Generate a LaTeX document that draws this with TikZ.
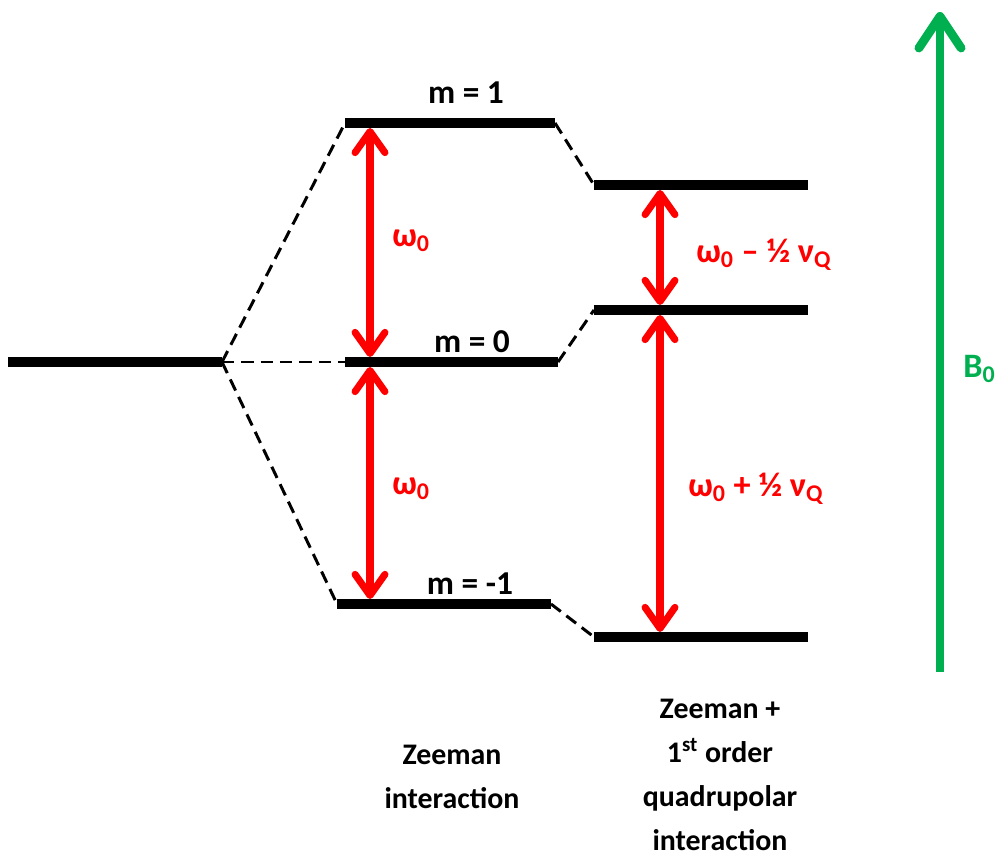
\documentclass[tikz,border=0pt]{standalone}
\usepackage{fontspec}
\setmainfont{Carlito}
\usepackage{xcolor}
\definecolor{nmrred}{RGB}{255,0,0}
\definecolor{nmrgreen}{RGB}{0,176,80}
\usetikzlibrary{arrows.meta,positioning}
\newcommand{\lo}[1]{\textsubscript{#1}}

\begin{document}
\begin{tikzpicture}[
        lvl/.style={line width=6pt, black},
        link/.style={line width=1.7pt, black, dash pattern=on 7pt off 4pt},
        arr/.style={{Straight Barb[length=12pt,width=17pt,round]}-{Straight Barb[length=12pt,width=17pt,round]},
          line width=4pt, nmrred, shorten <=0.1cm, shorten >=0.1cm},
        barr/.style={-{Straight Barb[length=18pt,width=24pt,round]}, line width=5pt, nmrgreen},
        lab/.style={font=\fontsize{17}{25}\selectfont\bfseries, align=center},
        mlab/.style={font=\fontsize{19}{24}\selectfont\bfseries, anchor=base, inner sep=0pt},
        rlab/.style={font=\fontsize{19.5}{24}\selectfont\bfseries, text=nmrred, anchor=west, inner sep=0pt}
      ]
        \useasboundingbox (0,0) rectangle (19.9,17.12);

        % energy levels
        \coordinate (g0l) at (0.16,9.88);  \coordinate (g0r) at (4.44,9.88);
        \coordinate (z1l) at (6.9,14.66);  \coordinate (z1r) at (11.1,14.66);
        \coordinate (z0l) at (6.9,9.88);   \coordinate (z0r) at (11.16,9.88);
        \coordinate (zml) at (6.74,5.04);  \coordinate (zmr) at (11.02,5.04);
        \coordinate (q1l) at (11.88,13.42); \coordinate (q1r) at (16.16,13.42);
        \coordinate (q0l) at (11.88,10.92); \coordinate (q0r) at (16.16,10.92);
        \coordinate (qml) at (11.88,4.38);  \coordinate (qmr) at (16.16,4.38);

        \draw[lvl] (g0l) -- (g0r);
        \draw[lvl] (z1l) -- (z1r);
        \draw[lvl] (z0l) -- (z0r);
        \draw[lvl] (zml) -- (zmr);
        \draw[lvl] (q1l) -- (q1r);
        \draw[lvl] (q0l) -- (q0r);
        \draw[lvl] (qml) -- (qmr);

        % correlation lines
        \draw[link] (g0r) -- (z1l);
        \draw[link] (g0r) -- (z0l);
        \draw[link] (g0r) -- (zml);
        \draw[link] (z1r) -- (q1l);
        \draw[link] (z0r) -- (q0l);
        \draw[link] (zmr) -- (qml);

        \node[mlab] (m1) at (9.32,15.04) {m = 1};
        \node[mlab] (m0) at (9.44,10.06) {m = 0};
        \node[mlab] (mm) at (9.4,5.22)   {m = -1};

        % transitions
        \coordinate (a1) at (7.4,14.66);  \coordinate (a0) at (7.4,9.88);  \coordinate (am) at (7.4,5.04);
        \coordinate (b1) at (13.2,13.42); \coordinate (b0) at (13.2,10.92); \coordinate (bm) at (13.2,4.38);
        \draw[arr] (a1) -- (a0);
        \draw[arr] (a0) -- (am);
        \draw[arr] (b1) -- (b0);
        \draw[arr] (b0) -- (bm);

        \node[rlab] (w1) at (7.84,12.3)  {ω\lo{0}};
        \node[rlab] (w2) at (7.84,7.34)  {ω\lo{0}};
        \node[rlab] (w3) at (13.92,12.02) {ω\lo{0} – ½ ν\lo{Q}};
        \node[rlab] (w4) at (13.76,7.34)  {ω\lo{0} + ½ ν\lo{Q}};

        % field
        \coordinate (fb) at (18.8,3.68);
        \coordinate (ft) at (18.8,16.88);
        \draw[barr] (fb) -- (ft);
        \node[rlab, text=nmrgreen] (b0lab) at (19.26,9.74) {B\lo{0}};

        \node[lab] (zee) at (9.04,1.58)  {Zeeman\\interaction};
        \node[lab] (quad) at (14.4,1.62) {Zeeman +\\1\textsuperscript{st} order\\quadrupolar\\interaction};
      \end{tikzpicture}
\end{document}
